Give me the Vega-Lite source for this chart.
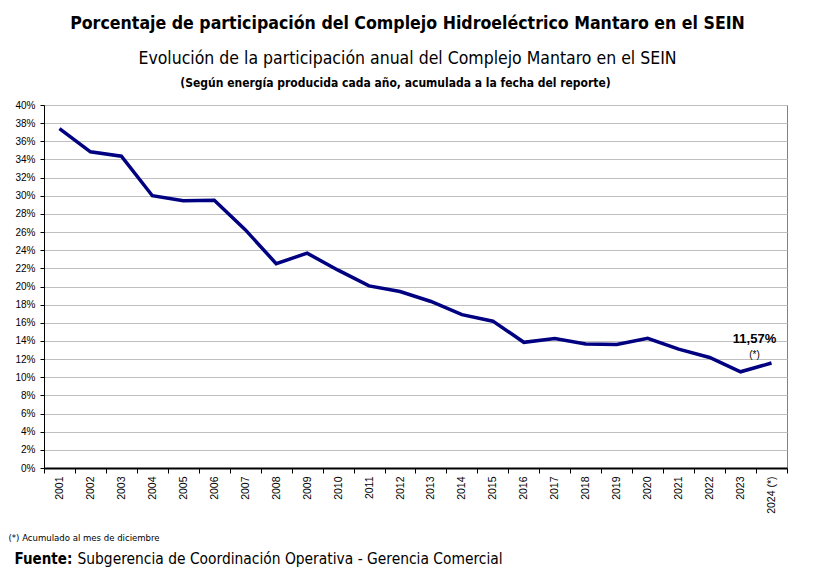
{
  "$schema": "https://vega.github.io/schema/vega-lite/v6.json",
  "autosize": "none",
  "width": 743,
  "height": 363,
  "padding": {"left": 44, "top": 105, "right": 37, "bottom": 107},
  "background": "white",
  "title": {
    "text": "Porcentaje de participación del Complejo Hidroeléctrico  Mantaro en el SEIN",
    "subtitle": "Evolución de la participación anual del Complejo Mantaro en el SEIN",
    "font": "DejaVu Sans Condensed",
    "fontSize": 17.6,
    "fontWeight": "bold",
    "color": "black",
    "subtitleFont": "DejaVu Sans Condensed",
    "subtitleFontSize": 17.5,
    "subtitleFontWeight": "normal",
    "subtitleColor": "black",
    "subtitlePadding": 17,
    "offset": 9,
    "frame": "group",
    "anchor": "middle",
    "dx": -8
  },
  "data": {
    "values": [
      {"anio": "2001", "participacion": 0.374},
      {"anio": "2002", "participacion": 0.3484},
      {"anio": "2003", "participacion": 0.3436},
      {"anio": "2004", "participacion": 0.300},
      {"anio": "2005", "participacion": 0.2944},
      {"anio": "2006", "participacion": 0.295},
      {"anio": "2007", "participacion": 0.2626},
      {"anio": "2008", "participacion": 0.2252},
      {"anio": "2009", "participacion": 0.2367},
      {"anio": "2010", "participacion": 0.218},
      {"anio": "2011", "participacion": 0.2007},
      {"anio": "2012", "participacion": 0.1945},
      {"anio": "2013", "participacion": 0.1835},
      {"anio": "2014", "participacion": 0.169},
      {"anio": "2015", "participacion": 0.1618},
      {"anio": "2016", "participacion": 0.1385},
      {"anio": "2017", "participacion": 0.1426},
      {"anio": "2018", "participacion": 0.1367},
      {"anio": "2019", "participacion": 0.136},
      {"anio": "2020", "participacion": 0.143},
      {"anio": "2021", "participacion": 0.131},
      {"anio": "2022", "participacion": 0.1218},
      {"anio": "2023", "participacion": 0.106},
      {"anio": "2024 (*)", "participacion": 0.1157}
    ]
  },
  "layer": [
    {
      "layer": [
        {
          "mark": {"type": "line", "color": "#000080", "strokeWidth": 3.5},
          "encoding": {
            "x": {
              "field": "anio",
              "type": "nominal",
              "scale": {"type": "band", "paddingInner": 0, "paddingOuter": 0},
              "axis": {
                "labelAngle": -90,
                "labelAlign": "right",
                "labelBaseline": "middle",
                "labelFontSize": 10.5,
                "labelPadding": 3,
                "tickBand": "extent",
                "tickSize": 5,
                "tickColor": "black",
                "domainColor": "black",
                "domainWidth": 2,
                "title": "(*) Acumulado al mes de diciembre",
                "titleFont": "DejaVu Sans Condensed",
                "titleFontSize": 9.5,
                "titleFontWeight": "normal",
                "titleX": -36,
                "titleY": 69,
                "titleAlign": "left",
                "titleBaseline": "middle"
              }
            },
            "y": {
              "field": "participacion",
              "type": "quantitative",
              "scale": {"domain": [0, 0.4], "nice": false},
              "axis": {
                "values": [0, 0.02, 0.04, 0.06, 0.08, 0.1, 0.12, 0.14, 0.16, 0.18, 0.2, 0.22, 0.24, 0.26, 0.28, 0.3, 0.32, 0.34, 0.36, 0.38, 0.4],
                "tickCount": 40,
                "labelOverlap": false,
                "format": ".0%",
                "labelFontSize": 10,
                "labelPadding": 5,
                "tickSize": 4,
                "tickColor": "black",
                "domainColor": "black",
                "grid": true,
                "gridColor": "#bfbfbf",
                "title": "Fuente:",
                "titleFont": "DejaVu Sans Condensed",
                "titleFontSize": 15,
                "titleFontWeight": "bold",
                "titleAngle": 0,
                "titleX": -30,
                "titleY": 453,
                "titleAlign": "left",
                "titleBaseline": "middle"
              }
            }
          }
        },
        {
          "transform": [{"filter": "datum.anio === '2024 (*)'"}],
          "mark": {"type": "text", "font": "Liberation Sans", "fontWeight": "bold", "fontSize": 13, "dx": -17, "dy": -24, "color": "black"},
          "encoding": {
            "x": {"field": "anio", "type": "nominal"},
            "y": {"field": "participacion", "type": "quantitative"},
            "text": {"field": "participacion", "type": "quantitative", "format": ".2%"}
          }
        },
        {
          "transform": [{"filter": "datum.anio === '2024 (*)'"}],
          "mark": {"type": "text", "font": "Liberation Sans", "fontSize": 10, "dx": -17, "dy": -8, "color": "black", "text": "(*)"},
          "encoding": {
            "x": {"field": "anio", "type": "nominal"},
            "y": {"field": "participacion", "type": "quantitative"}
          }
        }
      ]
    },
    {
      "mark": {"type": "point", "opacity": 0},
      "encoding": {
        "x": {
          "field": "anio",
          "type": "nominal",
          "axis": {
            "orient": "top",
            "labels": false,
            "ticks": false,
            "domain": false,
            "grid": false,
            "title": "(Según energía producida cada año, acumulada a la fecha del reporte)",
            "titleFont": "DejaVu Sans Condensed",
            "titleFontSize": 12,
            "titleFontWeight": "bold",
            "titleX": 351,
            "titleAlign": "center",
            "titleY": -23,
            "titleBaseline": "middle"
          }
        },
        "y": {
          "field": "participacion",
          "type": "quantitative",
          "axis": {
            "orient": "left",
            "labels": false,
            "ticks": false,
            "domain": false,
            "grid": false,
            "title": "Subgerencia de Coordinación Operativa - Gerencia Comercial",
            "titleFont": "DejaVu Sans Condensed",
            "titleFontSize": 15.4,
            "titleFontWeight": "normal",
            "titleAngle": 0,
            "titleX": 33,
            "titleY": 453,
            "titleAlign": "left",
            "titleBaseline": "middle"
          }
        }
      }
    }
  ],
  "resolve": {"scale": {"x": "independent", "y": "independent"}},
  "config": {
    "locale": {
      "number": {"decimal": ",", "thousands": ".", "grouping": [3], "currency": ["", " €"]}
    },
    "font": "Liberation Sans",
    "view": {"stroke": "#808080", "strokeWidth": 1},
    "axis": {
      "labelFont": "Liberation Sans",
      "labelColor": "black",
      "titleColor": "black"
    }
  }
}
